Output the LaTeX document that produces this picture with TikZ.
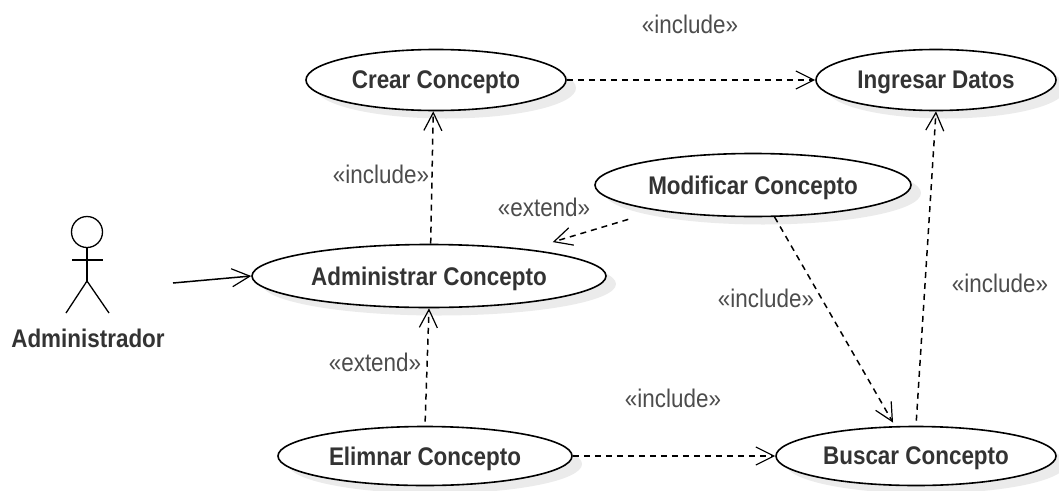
\documentclass[tikz,border=0pt]{standalone}
\usepackage{fontspec}
\setmainfont{Liberation Sans}[FakeStretch=0.88]
\usetikzlibrary{arrows.meta,shapes.geometric,shadows}
\begin{document}
\begin{tikzpicture}[x=1pt,y=-1pt]
\tikzstyle{usecase}=[draw,ellipse,fill=white,line width=1.6pt,inner sep=0pt,text depth=0pt,font=\fontsize{25.5}{28}\selectfont\bfseries,text=black!80,
drop shadow={shadow xshift=10pt,shadow yshift=-8pt,fill=black!8,opacity=1}]
\tikzstyle{stereo}=[font=\fontsize{25.5}{28}\selectfont,text=black!70,inner sep=0pt]
\tikzstyle{dep}=[line width=1.5pt,dash pattern=on 6pt off 5pt,-{Straight Barb[length=18pt,width=18pt,line width=1.2pt]}]
\useasboundingbox (0,0) rectangle (1059,490);

\draw (436,80)  node (crear) [usecase,minimum width=260pt,minimum height=61pt] {Crear Concepto};
\draw (936,80)  node (ingresar) [usecase,minimum width=240pt,minimum height=61pt] {Ingresar Datos};
\draw (753,185)  node (modificar) [usecase,minimum width=316pt,minimum height=63pt] {Modificar Concepto};
\draw (429,276)  node (administrar) [usecase,minimum width=354pt,minimum height=63pt] {Administrar Concepto};
\draw (425,456)  node (eliminar) [usecase,minimum width=294pt,minimum height=59pt] {Elimnar Concepto};
\draw (916,456)  node (buscar) [usecase,minimum width=280pt,minimum height=59pt] {Buscar Concepto};

% actor
\draw (87,232)  node (head) [draw,circle,line width=1.3pt,minimum size=31pt,inner sep=0pt] {};
\coordinate (hip) at (87,281);
\coordinate (armL) at (72,260);
\coordinate (armR) at (103,260);
\coordinate (footL) at (66,313);
\coordinate (footR) at (109,313);
\coordinate (actorOut) at (173,283);
\draw [line width=1.3pt] (head) -- (hip);
\draw [line width=1.3pt] (armL) -- (armR);
\draw [line width=1.3pt] (footL) -- (hip) -- (footR);
\draw (88,338)  node (actor) [font=\fontsize{25.5}{28}\selectfont\bfseries,text=black!80,inner sep=0pt] {Administrador};
\draw [line width=1.5pt,-{Straight Barb[length=18pt,width=18pt,line width=1.2pt]}] (actorOut) to (administrar.west);

\draw [dep] (administrar.87) to (crear.265);
\draw [dep] (crear) to (ingresar);
\draw [dep,shorten <=30pt,shorten >=25pt] (modificar.195.7) to (administrar.15.4);
\draw [dep,shorten >=4pt] (modificar.304.5) to (buscar.125);
\draw [dep,shorten <=5pt] (buscar.north) to (ingresar.south);
\draw [dep,shorten <=4pt] (eliminar.north) to (administrar.south);
\draw [dep] (eliminar) to (buscar);

\draw (690,24)  node (lbla) [stereo] {«include»};
\draw (381,174)  node (lblb) [stereo] {«include»};
\draw (544,207)  node (lblc) [stereo] {«extend»};
\draw (766,298)  node (lbld) [stereo] {«include»};
\draw (1000,283)  node (lble) [stereo] {«include»};
\draw (375,362)  node (lblf) [stereo] {«extend»};
\draw (673,398)  node (lblg) [stereo] {«include»};
\end{tikzpicture}
\end{document}
